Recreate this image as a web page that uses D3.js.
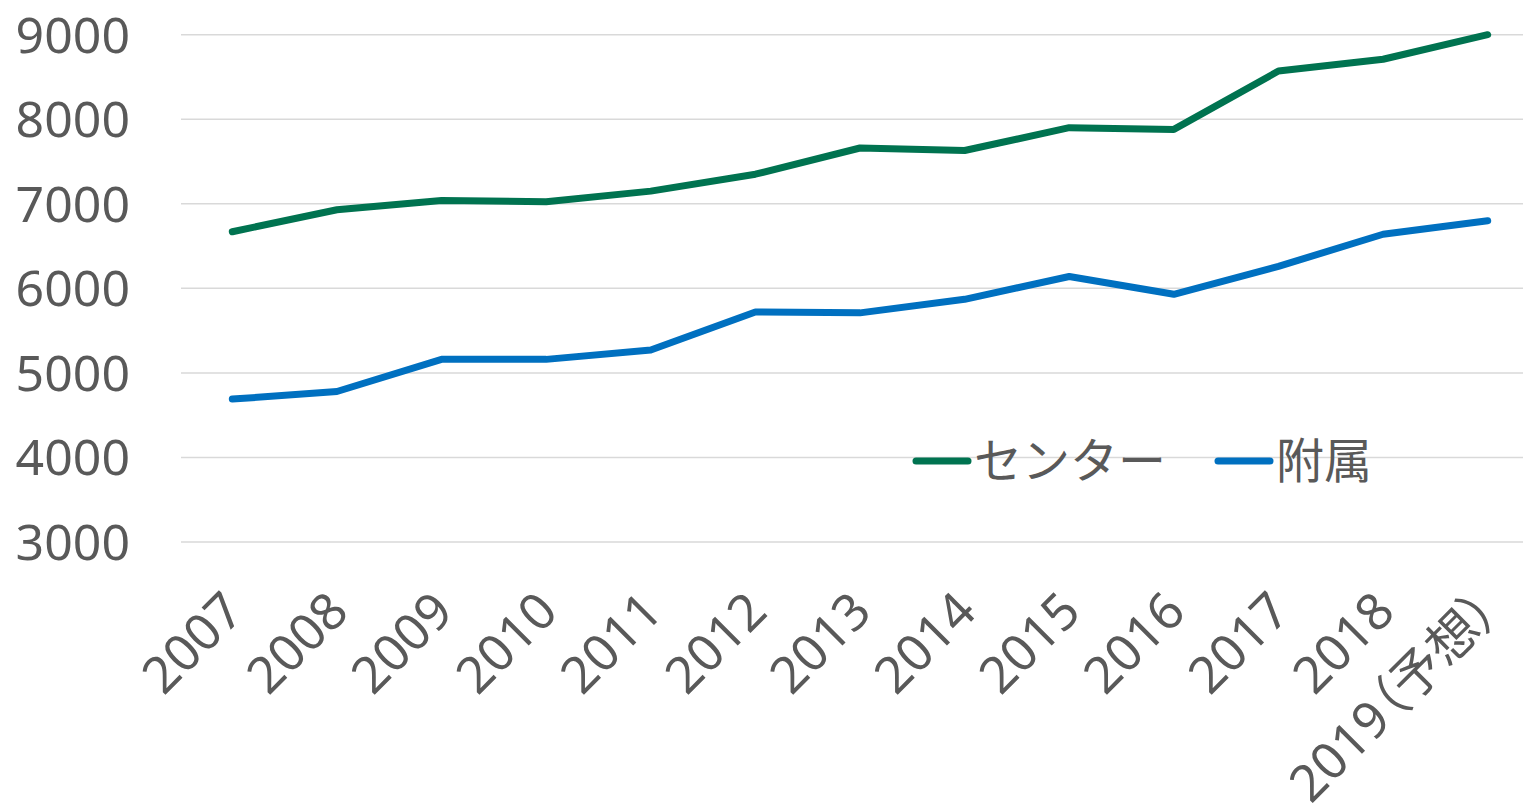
<!DOCTYPE html>
<html lang="ja">
<head>
    <meta charset="UTF-8">
    <title>センター・附属</title>
    <script src="https://d3js.org/d3.v7.min.js"></script>
    <style>
        body { margin: 0; background: #fff; }
        text { font-family: "Noto Sans", "Noto Sans CJK JP", sans-serif; fill: #595959; }
    </style>
</head>
<body>
<script>
    var years = ["2007", "2008", "2009", "2010", "2011", "2012", "2013", "2014", "2015", "2016", "2017", "2018", "2019（予想）"];
    var center = [6670, 6930, 7040, 7025, 7150, 7350, 7660, 7630, 7900, 7880, 8570, 8710, 9000];
    var fuzoku = [4690, 4780, 5160, 5160, 5270, 5720, 5710, 5870, 6140, 5930, 6260, 6640, 6800];
    var yTicks = [3000, 4000, 5000, 6000, 7000, 8000, 9000];
    var seriesNames = ["センター", "附属"];
    var colors = ["#007350", "#0070c0"];

    var width = 1523, height = 808;

    var xScale = d3.scalePoint().domain(years).range([180, 1540]).padding(0.5);
    var yScale = d3.scaleLinear().domain([3000, 9000]).range([542, 34.7]);

    var svg = d3.select("body").append("svg")
        .attr("width", width)
        .attr("height", height);

    // gridlines
    svg.append("g")
        .selectAll("line")
        .data(yTicks)
        .enter().append("line")
        .attr("x1", 181)
        .attr("x2", 1540)
        .attr("y1", function(d) { return yScale(d); })
        .attr("y2", function(d) { return yScale(d); })
        .attr("stroke", "#d9d9d9")
        .attr("stroke-width", 1.5);

    // y labels
    svg.append("g")
        .selectAll("text")
        .data(yTicks)
        .enter().append("text")
        .attr("x", 130)
        .attr("y", function(d) { return yScale(d); })
        .attr("dy", "0.36em")
        .attr("text-anchor", "end")
        .style("font-size", "50px")
        .text(function(d) { return d; });

    // x labels, rotated
    svg.append("g")
        .selectAll("text")
        .data(years)
        .enter().append("text")
        .attr("text-anchor", "end")
        .attr("transform", function(d) { return "translate(" + (xScale(d) + 14) + ",614) rotate(-45)"; })
        .style("font-size", "51px")
        .style("font-feature-settings", "'palt'")
        .text(function(d) { return d; });

    var line = d3.line()
        .x(function(d, i) { return xScale(years[i]); })
        .y(function(d) { return yScale(d); });

    [center, fuzoku].forEach(function(values, i) {
        svg.append("path")
            .datum(values)
            .attr("fill", "none")
            .attr("stroke", colors[i])
            .attr("stroke-width", 7)
            .attr("stroke-linecap", "round")
            .attr("stroke-linejoin", "round")
            .attr("d", line);
    });

    // legend
    var legendX = [916, 1218];
    var legend = svg.append("g")
        .selectAll("g")
        .data(seriesNames)
        .enter().append("g")
        .attr("transform", function(d, i) { return "translate(" + legendX[i] + ",461)"; });

    legend.append("line")
        .attr("x1", 0).attr("x2", 52)
        .attr("stroke", function(d, i) { return colors[i]; })
        .attr("stroke-width", 7)
        .attr("stroke-linecap", "round");

    legend.append("text")
        .attr("x", 58)
        .attr("dy", "0.36em")
        .style("font-size", "48px")
        .text(function(d) { return d; });
</script>
</body>
</html>
